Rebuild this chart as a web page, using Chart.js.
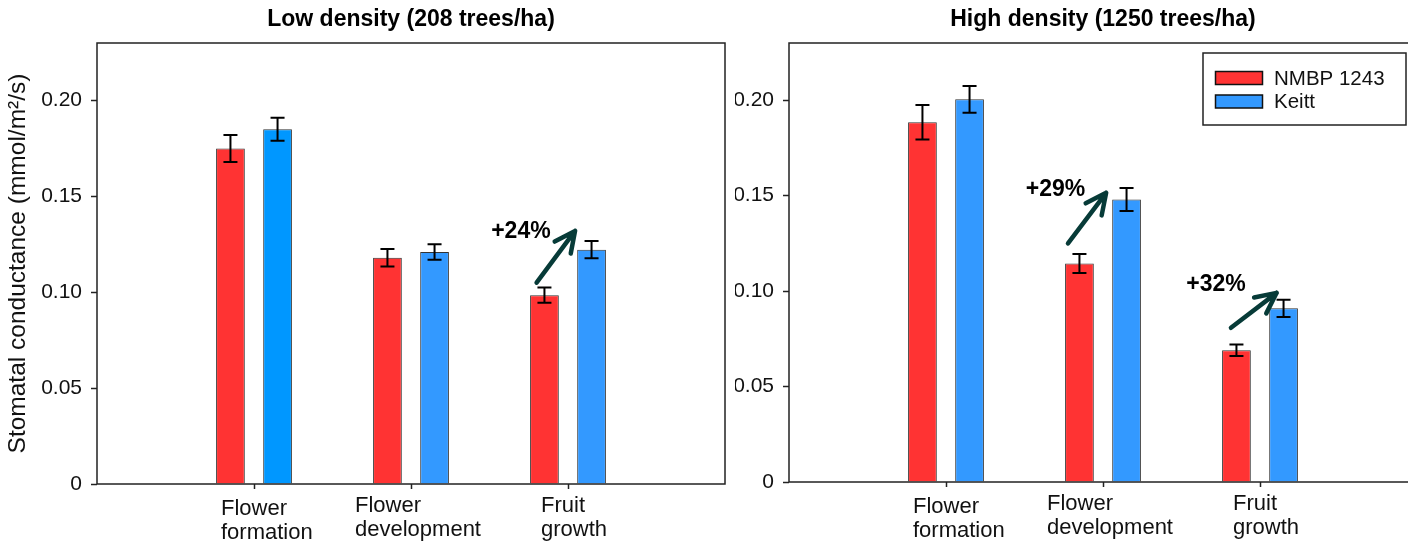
<!DOCTYPE html>
<html>
<head>
<meta charset="utf-8">
<script src="https://cdn.jsdelivr.net/npm/chart.js@4.4.1/dist/chart.umd.min.js"></script>
<style>
  html, body { margin: 0; padding: 0; background: #fff; width: 1408px; height: 545px; overflow: hidden; }
  #low  { position: absolute; left: 0;     top: 0; }
  #high { position: absolute; left: 735px; top: 0; }
</style>
</head>
<body>
<canvas id="low" width="735" height="545"></canvas>
<canvas id="high" width="700" height="545"></canvas>
<script>
// ---- data ----
const stages = [['Flower', 'formation'], ['Flower', 'development'], ['Fruit', 'growth']];
const seriesNames = ['NMBP 1243', 'Keitt'];

const lowNMBP     = [0.175, 0.118, 0.0985];
const lowNMBPErr  = [0.007, 0.0045, 0.004];
const lowKeitt    = [0.185, 0.121, 0.1222];
const lowKeittErr = [0.006, 0.004, 0.0045];

const highNMBP     = [0.1885, 0.1145, 0.069];
const highNMBPErr  = [0.009, 0.005, 0.003];
const highKeitt    = [0.2005, 0.148, 0.091];
const highKeittErr = [0.007, 0.006, 0.0045];

const yTickValues = [0, 0.05, 0.10, 0.15, 0.20];
const yTickLabels = ['0', '0.05', '0.10', '0.15', '0.20'];

const lowGainLabels  = ['+24%'];
const highGainLabels = ['+29%', '+32%'];

// ---- styling ----
const FONT = "'Liberation Sans', Arial, Helvetica, sans-serif";
const INK = '#111';
const LINE = '#222';
const RED = '#ff3333';
const BLUE = '#3399ff';

// plot frame (box around the plotting area)
const frame = {
  id: 'frame',
  afterDatasetsDraw(chart) {
    const { ctx, chartArea: a } = chart;
    ctx.save();
    ctx.strokeStyle = LINE;
    ctx.lineWidth = 1.5;
    ctx.strokeRect(a.left, a.top, a.right - a.left, a.bottom - a.top);
    ctx.restore();
  }
};

// standard-error whiskers on each bar
const errorBars = {
  id: 'errorBars',
  afterDatasetsDraw(chart) {
    const ctx = chart.ctx, y = chart.scales.y;
    chart.data.datasets.forEach((ds, i) => {
      chart.getDatasetMeta(i).data.forEach((bar, j) => {
        const v = ds.data[j], e = ds.errors[j];
        if (v == null || e == null) return;
        const top = y.getPixelForValue(v + e), bot = y.getPixelForValue(v - e);
        ctx.save();
        ctx.strokeStyle = '#000';
        ctx.lineWidth = 2;
        ctx.beginPath();
        ctx.moveTo(bar.x, top); ctx.lineTo(bar.x, bot);
        ctx.moveTo(bar.x - 7, top); ctx.lineTo(bar.x + 7, top);
        ctx.moveTo(bar.x - 7, bot); ctx.lineTo(bar.x + 7, bot);
        ctx.stroke();
        ctx.restore();
      });
    });
  }
};

// two-line, left-aligned stage names under the category ticks
const stageLabels = {
  id: 'stageLabels',
  afterDraw(chart, args, opts) {
    const ctx = chart.ctx, x = chart.scales.x, base = chart.chartArea.bottom;
    ctx.save();
    ctx.font = '22px ' + FONT;
    ctx.fillStyle = INK;
    ctx.textAlign = 'left';
    ctx.textBaseline = 'alphabetic';
    stages.forEach((lines, i) => {
      const px = x.getPixelForValue(i + 1) + opts.shift[i];
      lines.forEach((t, k) => ctx.fillText(t, px, base + opts.drop[i] + k * 24));
    });
    ctx.restore();
  }
};

// percentage-gain arrows between the two cultivars
const gains = {
  id: 'gains',
  afterDraw(chart, args, opts) {
    const ctx = chart.ctx, xs = chart.scales.x, ys = chart.scales.y;
    opts.items.forEach((it, i) => {
      const x0 = xs.getPixelForValue(it.from[0]), y0 = ys.getPixelForValue(it.from[1]);
      const x1 = xs.getPixelForValue(it.to[0]),   y1 = ys.getPixelForValue(it.to[1]);
      const ang = Math.atan2(y1 - y0, x1 - x0);
      ctx.save();
      ctx.strokeStyle = '#073b38';
      ctx.lineWidth = 4.5;
      ctx.lineCap = 'round';
      ctx.lineJoin = 'round';
      ctx.beginPath();
      ctx.moveTo(x0, y0); ctx.lineTo(x1, y1);
      [-1, 1].forEach(s => {
        const a = ang + Math.PI + s * 0.45;
        ctx.moveTo(x1, y1);
        ctx.lineTo(x1 + 23 * Math.cos(a), y1 + 23 * Math.sin(a));
      });
      ctx.stroke();
      ctx.font = 'bold 23px ' + FONT;
      ctx.fillStyle = '#000';
      ctx.textAlign = 'center';
      ctx.textBaseline = 'middle';
      ctx.fillText(opts.labels[i], xs.getPixelForValue(it.at[0]), ys.getPixelForValue(it.at[1]));
      ctx.restore();
    });
  }
};

// boxed legend in the upper-right corner of the plot
const boxLegend = {
  id: 'boxLegend',
  afterDraw(chart) {
    const { ctx, chartArea: a } = chart;
    const w = 203, h = 72;
    const right = a.right - 11, left = right - w, top = a.top + 10;
    ctx.save();
    ctx.fillStyle = '#fff';
    ctx.fillRect(left, top, w, h);
    ctx.strokeStyle = LINE;
    ctx.lineWidth = 1.5;
    ctx.strokeRect(left, top, w, h);
    ctx.font = '20.5px ' + FONT;
    ctx.textAlign = 'left';
    ctx.textBaseline = 'middle';
    chart.data.datasets.forEach((ds, i) => {
      const cy = top + 25 + i * 23.5;
      ctx.fillStyle = ds.legendColor;
      ctx.fillRect(left + 12.5, cy - 6.5, 47, 13);
      ctx.strokeStyle = '#111';
      ctx.lineWidth = 1.5;
      ctx.strokeRect(left + 12.5, cy - 6.5, 47, 13);
      ctx.fillStyle = INK;
      ctx.fillText(ds.label, left + 71, cy + 1);
    });
    ctx.restore();
  }
};

// empty slots at both ends keep the three stages at 1/4, 1/2 and 3/4 of the axis
function padEnds(v, fill = null) { return [fill, ...v, fill]; }

function makePanel(id, nmbp, nmbpErr, keitt, keittErr, cfg) {
  return new Chart(document.getElementById(id), {
    type: 'bar',
    data: {
      labels: ['', ...stages.map(s => s.join(' ')), ''],
      datasets: [
        {
          label: seriesNames[0], data: padEnds(nmbp), errors: padEnds(nmbpErr),
          backgroundColor: RED, legendColor: RED, borderColor: '#333', borderWidth: 1,
          categoryPercentage: 0.6, barPercentage: 0.61
        },
        {
          label: seriesNames[1], data: padEnds(keitt), errors: padEnds(keittErr),
          backgroundColor: padEnds(cfg.keittColors, BLUE), legendColor: BLUE, borderColor: '#333', borderWidth: 1,
          categoryPercentage: 0.6, barPercentage: 0.61
        }
      ]
    },
    options: {
      responsive: false,
      animation: false,
      devicePixelRatio: 1,
      layout: { padding: { left: 0, right: cfg.padRight, top: 0, bottom: 0 } },
      plugins: {
        legend: { display: false },
        tooltip: { enabled: false },
        title: {
          display: true, text: cfg.title, fullSize: false, color: '#000',
          font: { family: FONT, size: 23, weight: 'bold' },
          padding: { top: 6, bottom: 9.4 }
        },
        stageLabels: { shift: [-33, -56, -27], drop: cfg.drop },
        gains: { items: cfg.gains, labels: cfg.gainLabels }
      },
      scales: {
        x: {
          offset: false,
          grid: {
            offset: false, drawOnChartArea: false, drawTicks: true, tickLength: 5, tickWidth: 1.5,
            tickColor: c => (c.index === 0 || c.index === 4) ? 'rgba(0,0,0,0)' : LINE
          },
          border: { display: false },
          ticks: { display: false },
          afterFit(s) { s.height = cfg.xHeight; }
        },
        y: {
          min: 0, max: 0.23,
          afterBuildTicks(s) { s.ticks = yTickValues.map(v => ({ value: v })); },
          ticks: {
            callback: (v, i) => yTickLabels[i],
            font: { family: FONT, size: 21 }, color: INK, padding: 9
          },
          grid: { drawOnChartArea: false, tickLength: 6, tickWidth: 1.5, tickColor: LINE },
          border: { display: false },
          title: {
            display: cfg.yTitle, text: 'Stomatal conductance (mmol/m²/s)', color: INK,
            font: { family: FONT, size: 24.5 }, padding: { top: 4, bottom: 0 }
          },
          afterFit(s) { s.width = cfg.yWidth; }
        }
      }
    },
    plugins: [frame, errorBars, stageLabels, gains].concat(cfg.legend ? [boxLegend] : [])
  });
}

makePanel('low', lowNMBP, lowNMBPErr, lowKeitt, lowKeittErr, {
  title: 'Low density (208 trees/ha)',
  keittColors: ['#0097ff', BLUE, BLUE],
  padRight: 10, yWidth: 97, xHeight: 61, yTitle: true, legend: false,
  drop: [31, 28, 28],
  gains: [{ from: [2.80, 0.105], to: [3.045, 0.132], at: [2.70, 0.1318] }],
  gainLabels: lowGainLabels
});

makePanel('high', highNMBP, highNMBPErr, highKeitt, highKeittErr, {
  title: 'High density (1250 trees/ha)',
  keittColors: [BLUE, BLUE, BLUE],
  padRight: 18, yWidth: 54, xHeight: 63, yTitle: false, legend: true,
  drop: [31, 28, 28],
  gains: [
    { from: [1.777, 0.125], to: [2.02, 0.1515], at: [1.697, 0.1533] },
    { from: [2.815, 0.0808], to: [3.106, 0.0991], at: [2.72, 0.1034] }
  ],
  gainLabels: highGainLabels
});
</script>
</body>
</html>
